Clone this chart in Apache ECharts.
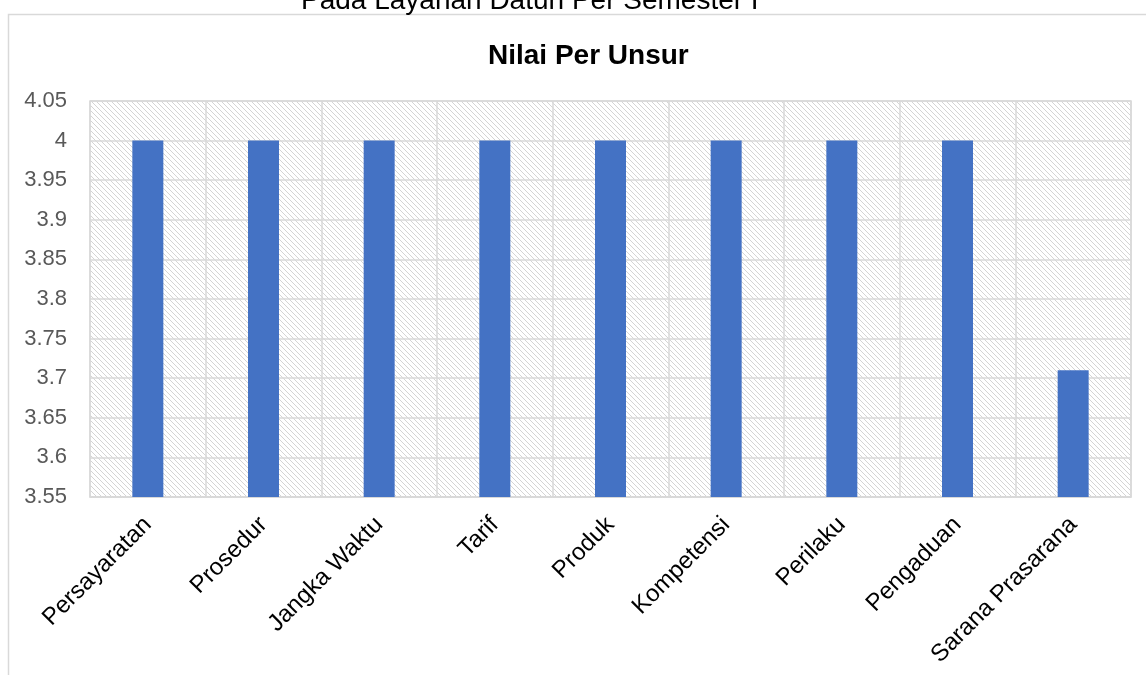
<!DOCTYPE html>
<html>
<head>
<meta charset="utf-8">
<script src="https://cdn.jsdelivr.net/npm/echarts@6/dist/echarts.min.js"></script>
<style>
  html, body { margin: 0; padding: 0; background: #fff; }
  #chart { width: 1146px; height: 675px; }
</style>
</head>
<body>
<div id="chart"></div>
<script>
// data
const unsur = ['Persayaratan', 'Prosedur', 'Jangka Waktu', 'Tarif', 'Produk', 'Kompetensi', 'Perilaku', 'Pengaduan', 'Sarana Prasarana'];
const nilai = [4, 4, 4, 4, 4, 4, 4, 4, 3.71];
const yMin = 3.55, yMax = 4.05, yStep = 0.05;

// hatched plot background
function hatch() {
    const c = document.createElement('canvas');
    c.width = 5; c.height = 5;
    const g = c.getContext('2d');
    g.fillStyle = '#fff';
    g.fillRect(0, 0, 5, 5);
    g.strokeStyle = '#d4d4d4';
    g.lineWidth = 1;
    g.beginPath();
    g.moveTo(-1, -1); g.lineTo(6, 6);
    g.moveTo(-1, 4); g.lineTo(1, 6);
    g.moveTo(4, -1); g.lineTo(6, 1);
    g.stroke();
    return { image: c, repeat: 'repeat' };
}

let myChart = echarts.init(document.getElementById('chart'));
myChart.setOption({
    animation: false,
    title: [{
        text: 'Pada Layanan Datun Per Semester I',
        left: 296, top: -18,
        textStyle: { fontFamily: 'Liberation Sans', fontSize: 28, fontWeight: 'normal', color: '#000' }
    }, {
        text: 'Nilai Per Unsur',
        left: 483, top: 37,
        textStyle: { fontFamily: 'Liberation Sans', fontSize: 28, fontWeight: 'bold', color: '#000' }
    }],
    graphic: [{
        type: 'rect',
        shape: { x: 8.5, y: 14.5, width: 1160, height: 700 },
        style: { fill: 'none', stroke: '#d9d9d9', lineWidth: 1.5 },
        silent: true
    }],
    grid: {
        left: 90, right: 15, top: 101, bottom: 178,
        show: true,
        backgroundColor: hatch(),
        borderColor: '#d9d9d9',
        borderWidth: 1.5
    },
    xAxis: {
        type: 'category',
        data: unsur,
        axisTick: { show: false },
        axisLine: { lineStyle: { color: '#d9d9d9', width: 1.5 } },
        splitLine: { show: true, lineStyle: { color: '#d9d9d9', width: 1.5 } },
        axisLabel: {
            rotate: 45, margin: 24, interval: 0,
            fontFamily: 'Liberation Sans', fontSize: 24, color: '#000'
        }
    },
    yAxis: {
        type: 'value',
        min: yMin, max: yMax, interval: yStep,
        axisLine: { show: false },
        axisTick: { show: false },
        splitLine: { lineStyle: { color: '#d9d9d9', width: 1.5 } },
        axisLabel: {
            margin: 23,
            fontFamily: 'Liberation Sans', fontSize: 22, color: '#595959',
            formatter: v => String(+v.toFixed(2))
        }
    },
    series: [{
        type: 'bar',
        data: nilai,
        barWidth: 31,
        itemStyle: { color: '#4472C4' }
    }]
});
</script>
</body>
</html>
